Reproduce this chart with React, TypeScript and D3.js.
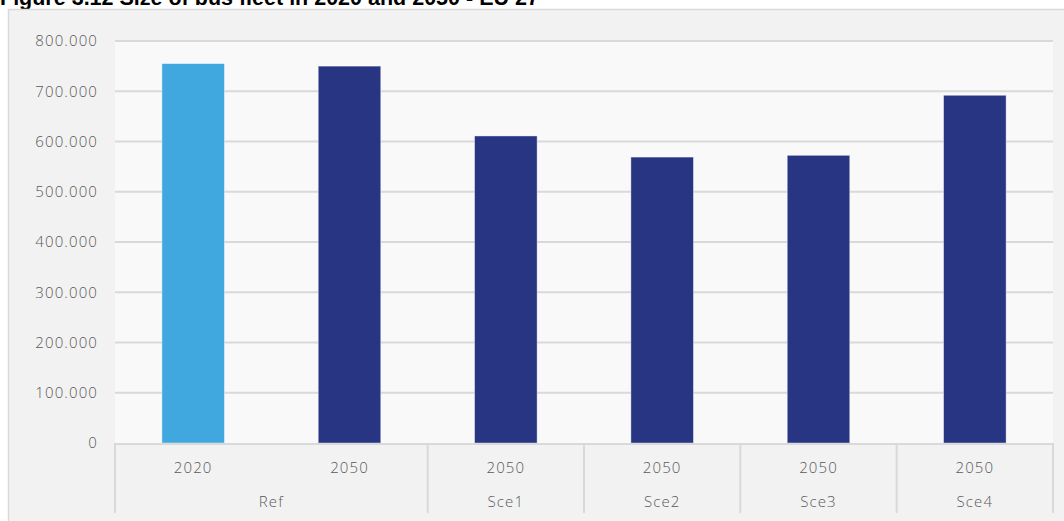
import React from "react";
import * as d3 from "d3";

const years = ["2020", "2050", "2050", "2050", "2050", "2050"];
const groups = ["Ref", "Sce1", "Sce2", "Sce3", "Sce4"];
const groupSizes = [2, 1, 1, 1, 1];
const values = [755000, 750000, 611000, 569000, 572500, 692000];
const barColors = ["#41a8df", "#283583", "#283583", "#283583", "#283583", "#283583"];
const yTicks = [0, 100000, 200000, 300000, 400000, 500000, 600000, 700000, 800000];

const W = 1064, H = 521;
const plotL = 115, plotR = 1053, plotT = 41, plotB = 443;

const fmt = (v: number) => (v === 0 ? "0" : d3.format(",")(v).replace(/,/g, "."));

export default function App() {
  const idx = values.map((_, i) => String(i));
  const x = d3.scaleBand<string>().domain(idx).range([plotL, plotR]).paddingInner(0.6).paddingOuter(0.3);
  const step = x.step();
  const y = d3.scaleLinear().domain([0, 800000]).range([plotB, plotT]);
  const font = "'Open Sans', sans-serif";
  const tc = "#595959";
  const ls = 1.1;

  let cum = 0;
  const groupPos = groups.map((g, gi) => {
    const start = plotL + cum * step;
    cum += groupSizes[gi];
    const end = plotL + cum * step;
    return { g, start, end };
  });

  return (
    <svg width={W} height={H} style={{ position: "absolute", left: 0, top: 0, background: "#fff" }}>
      <text x={0} y={4.5} fontFamily="'Liberation Sans', Arial, sans-serif" fontWeight="bold" fontSize={21.5} fill="#000">
        Figure 3.12 Size of bus fleet in 2020 and 2050 - EU 27
      </text>
      <rect x={8.5} y={9.5} width={W} height={H} fill="#f2f2f2" stroke="#d9d9d9" strokeWidth={1.5} />
      <rect x={plotL} y={plotT - 1} width={plotR - plotL} height={plotB - plotT + 1} fill="#f9f9f9" />
      {yTicks.map((t) => (
        <g key={t}>
          {t > 0 && <line x1={plotL} x2={plotR} y1={y(t)} y2={y(t)} stroke="#d9d9d9" strokeWidth={2} />}
          <text x={98} y={y(t)} dy="0.35em" textAnchor="end" fontFamily={font} fontWeight={300} fontSize={15} letterSpacing={ls} fill={tc}>
            {fmt(t)}
          </text>
        </g>
      ))}
      {values.map((v, i) => (
        <rect
          key={i}
          x={x(String(i))!}
          y={y(v)}
          width={x.bandwidth()}
          height={y(0) - y(v)}
          fill={barColors[i]}
          stroke="#ffffff"
          strokeOpacity={0.5}
          strokeWidth={0.8}
        />
      ))}
      <line x1={plotL} x2={plotR} y1={plotB + 1} y2={plotB + 1} stroke="#d9d9d9" strokeWidth={2} />
      {groupPos.map((gp, gi) => (
        <line key={"s" + gi} x1={gp.start} x2={gp.start} y1={plotB} y2={513} stroke="#d9d9d9" strokeWidth={2} />
      ))}
      <line x1={plotR} x2={plotR} y1={plotB} y2={513} stroke="#d9d9d9" strokeWidth={2} />
      {years.map((yr, i) => (
        <text key={"y" + i} x={x(String(i))! + x.bandwidth() / 2} y={468} dy="0.35em" textAnchor="middle" fontFamily={font} fontWeight={300} fontSize={15} letterSpacing={ls} fill={tc}>
          {yr}
        </text>
      ))}
      {groupPos.map((gp) => (
        <text key={gp.g} x={(gp.start + gp.end) / 2} y={502} dy="0.35em" textAnchor="middle" fontFamily={font} fontWeight={300} fontSize={15} letterSpacing={ls} fill={tc}>
          {gp.g}
        </text>
      ))}
    </svg>
  );
}
